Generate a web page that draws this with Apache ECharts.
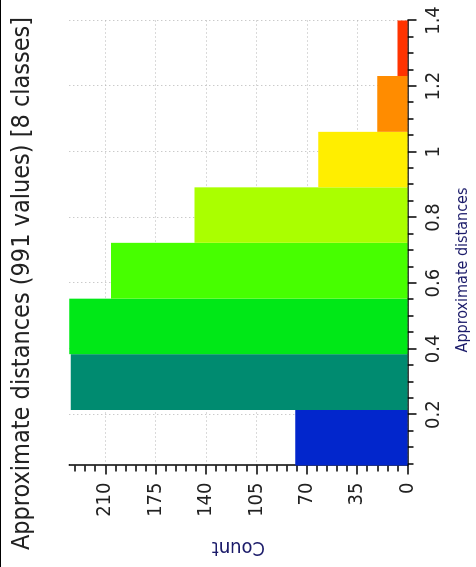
<!DOCTYPE html>
<html>
<head>
<meta charset="utf-8">
<script src="https://cdn.jsdelivr.net/npm/echarts@6/dist/echarts.min.js"></script>
<style>
html, body { margin: 0; padding: 0; background: #fff; overflow: hidden; width: 476px; height: 567px; }
#wrap { position: absolute; left: 0; top: 0; width: 567px; height: 476px;
  transform-origin: 0 0; transform: translate(0, 567px) rotate(-90deg); border-top: 1px solid #000; box-sizing: border-box; }
#chart { width: 567px; height: 475px; }
</style>
</head>
<body>
<div id="wrap"><div id="chart"></div></div>
<script>
// ---- data ----
const titleText = 'Approximate distances (991 values) [8 classes]';
const xName = 'Approximate distances';
const yName = 'Count';
const binEdges = [0.045, 0.214, 0.384, 0.553, 0.723, 0.892, 1.061, 1.231, 1.4];
const counts = [78, 234, 235, 206, 148, 62, 21, 7];
const binColors = ['#0226CC', '#008B70', '#00E817', '#47FF00', '#AAFF00', '#FFEE00', '#FF8C00', '#FF3300'];
const xMajorTicks = [0.2, 0.4, 0.6, 0.8, 1.0, 1.2, 1.4];
const xMinorTicks = [0.05, 0.1, 0.15, 0.25, 0.3, 0.35, 0.45, 0.5, 0.55, 0.65, 0.7, 0.75, 0.85, 0.9, 0.95, 1.05, 1.1, 1.15, 1.25, 1.3, 1.35];
const yMajorTicks = [0, 35, 70, 105, 140, 175, 210];
const yMinorTicks = [7, 14, 21, 28, 42, 49, 56, 63, 77, 84, 91, 98, 112, 119, 126, 133, 147, 154, 161, 168, 182, 189, 196, 203, 217, 224, 231];
const xMin = 0.045, xMax = 1.4, yMin = 0, yMax = 235;

const FONT = '"DejaVu Sans Condensed", "DejaVu Sans", sans-serif';
const barData = counts.map((c, i) => [binEdges[i], binEdges[i + 1], c]);

const chart = echarts.init(document.getElementById('chart'), null, { renderer: 'canvas' });
const gridLine = { show: true, lineStyle: { color: '#b4b4b4', type: [1, 3], width: 1 } };
chart.setOption({
  animation: false,
  backgroundColor: '#fff',
  title: {
    text: titleText, left: 'center', top: 4,
    textStyle: { fontFamily: FONT, fontSize: 25, fontWeight: 'normal', color: '#222' }
  },
  grid: { left: 101.5, right: 20.5, top: 68.3, bottom: 68.5, containLabel: false },
  xAxis: [
    {
      type: 'value', min: xMin, max: xMax, position: 'bottom',
      name: xName, nameLocation: 'middle', nameGap: 47,
      nameTextStyle: { fontFamily: FONT, fontSize: 16, color: '#1c1c6a', padding: [0, 54, 0, 0] },
      axisLine: { show: true, onZero: false, lineStyle: { color: '#000', width: 1.5 } },
      axisTick: { show: true, inside: false, length: 9, customValues: xMajorTicks, lineStyle: { color: '#000', width: 1.5 } },
      axisLabel: { show: true, customValues: xMajorTicks, margin: 16, fontFamily: FONT, fontSize: 20, color: '#222',
        formatter: v => String(+v.toFixed(2)) },
      splitLine: gridLine
    },
    {
      type: 'value', min: xMin, max: xMax, position: 'bottom',
      axisLine: { show: false, onZero: false },
      axisTick: { show: true, inside: false, length: 6, customValues: xMinorTicks, lineStyle: { color: '#000', width: 1.5 } },
      axisLabel: { show: false },
      splitLine: { show: false }
    }
  ],
  yAxis: [
    {
      type: 'value', min: yMin, max: yMax, position: 'left',
      name: yName, nameLocation: 'middle', nameGap: 72,
      nameTextStyle: { fontFamily: FONT, fontSize: 20, color: '#1c1c6a' },
      axisLine: { show: true, onZero: false, lineStyle: { color: '#000', width: 1.5 } },
      axisTick: { show: true, inside: false, length: 9, customValues: yMajorTicks, lineStyle: { color: '#000', width: 1.5 } },
      axisLabel: { show: true, customValues: yMajorTicks, margin: 17, fontFamily: FONT, fontSize: 20, color: '#222' },
      splitLine: gridLine
    },
    {
      type: 'value', min: yMin, max: yMax, position: 'left',
      axisLine: { show: false, onZero: false },
      axisTick: { show: true, inside: false, length: 6, customValues: yMinorTicks, lineStyle: { color: '#000', width: 1.5 } },
      axisLabel: { show: false },
      splitLine: { show: false }
    }
  ],
  series: [{
    type: 'custom',
    xAxisIndex: 0, yAxisIndex: 0,
    z: 5,
    encode: { x: [0, 1], y: 2 },
    data: barData,
    renderItem: function (params, api) {
      const p0 = api.coord([api.value(0), api.value(2)]);
      const p1 = api.coord([api.value(1), 0]);
      return {
        type: 'rect',
        shape: { x: p0[0], y: p0[1], width: p1[0] - p0[0], height: p1[1] - p0[1] },
        style: { fill: binColors[params.dataIndex] }
      };
    }
  }]
});
</script>
</body>
</html>
